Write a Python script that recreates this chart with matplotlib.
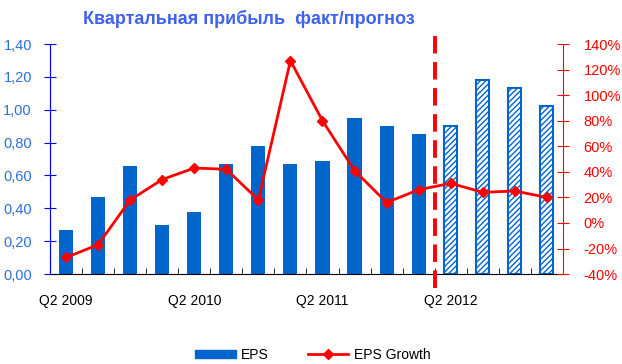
import numpy as np
import matplotlib
matplotlib.use('Agg')
import matplotlib.pyplot as plt
from matplotlib.patches import Patch
from matplotlib.lines import Line2D

plt.rcParams['font.family'] = ['Liberation Sans', 'DejaVu Sans']

quarters = ['Q2 2009', 'Q3 2009', 'Q4 2009', 'Q1 2010',
            'Q2 2010', 'Q3 2010', 'Q4 2010', 'Q1 2011',
            'Q2 2011', 'Q3 2011', 'Q4 2011', 'Q1 2012',
            'Q2 2012', 'Q3 2012', 'Q4 2012', 'Q1 2013']
eps = [0.27, 0.47, 0.66, 0.30, 0.38, 0.67, 0.78, 0.67,
       0.69, 0.95, 0.90, 0.85, 0.90, 1.18, 1.13, 1.02]
growth = [-27, -17, 18, 34, 43, 42, 18, 127,
          80, 41, 16, 26, 31, 24, 25, 20]
n_fact = 12  # первые 12 кварталов - факт, дальше прогноз
shown_labels = ['Q2 2009', 'Q2 2010', 'Q2 2011', 'Q2 2012']

blue = '#0066CC'
red = '#FF0000'

fig = plt.figure(figsize=(6.22, 3.64), dpi=100)
ax = fig.add_axes([0.0804, 0.247, 0.8246, 0.632])
ax2 = ax.twinx()

x = np.arange(len(quarters))
ax.bar(x[:n_fact], eps[:n_fact], width=0.44, color=blue, zorder=2)
ax.bar(x[n_fact:], eps[n_fact:], width=0.40, color='white', edgecolor=blue,
       hatch='//////', linewidth=1.5, zorder=2)

ax2.plot(x, growth, color=red, lw=2, marker='D', ms=5.5, zorder=3)

ax.set_xlim(-0.5, len(quarters) - 0.5)
ax.set_ylim(0, 1.4)
ax2.set_ylim(-40, 140)

ax.set_yticks(np.arange(0, 1.41, 0.2))
ax.set_yticklabels([f'{v:.2f}'.replace('.', ',') for v in np.arange(0, 1.41, 0.2)])
ax2.set_yticks(np.arange(-40, 141, 20))
ax2.set_yticklabels([f'{v}%' for v in range(-40, 141, 20)])

ax.set_xticks([quarters.index(q) for q in shown_labels])
ax.set_xticklabels(shown_labels)
ax.set_xticks(np.arange(0.5, len(quarters) - 1, 1), minor=True)
ax.tick_params(axis='x', which='major', length=0, pad=14, labelsize=10, labelcolor='black')
ax.tick_params(axis='x', which='minor', direction='in', length=4, color='black')
ax.tick_params(axis='y', direction='inout', length=8, pad=9, color='blue',
               labelcolor='#2F6FD8', labelsize=10.5)
ax2.tick_params(axis='y', direction='inout', length=8, pad=11, color=red,
                labelcolor=red, labelsize=10.5)

for a in (ax, ax2):
    a.spines['top'].set_visible(False)
ax.spines['left'].set_color('blue')
ax2.spines['left'].set_color('blue')
ax2.spines['right'].set_color(red)
ax.spines['right'].set_visible(False)
ax.spines['bottom'].set_color('black')
ax2.spines['bottom'].set_visible(False)

# граница факт/прогноз
ax.plot([n_fact - 0.5, n_fact - 0.5], [-0.061, 1.061], color=red, lw=2.8,
        dashes=(4.5, 2.2), transform=ax.get_xaxis_transform(), clip_on=False, zorder=4)

fig.text(0.40, 0.948, 'Квартальная прибыль  факт/прогноз', ha='center', va='center',
         fontsize=13, fontweight='bold', color='#3F63F0')

handles = [Patch(facecolor=blue, edgecolor=blue),
           Line2D([0], [0], color=red, lw=2, marker='D', ms=5)]
fig.legend(handles, ['EPS', 'EPS Growth'], loc='center', bbox_to_anchor=(0.503, 0.025),
           ncol=2, frameon=False, fontsize=10, handlelength=2.9, handleheight=0.6,
           columnspacing=2.8, handletextpad=0.4)

fig.savefig('out.png', dpi=100)
